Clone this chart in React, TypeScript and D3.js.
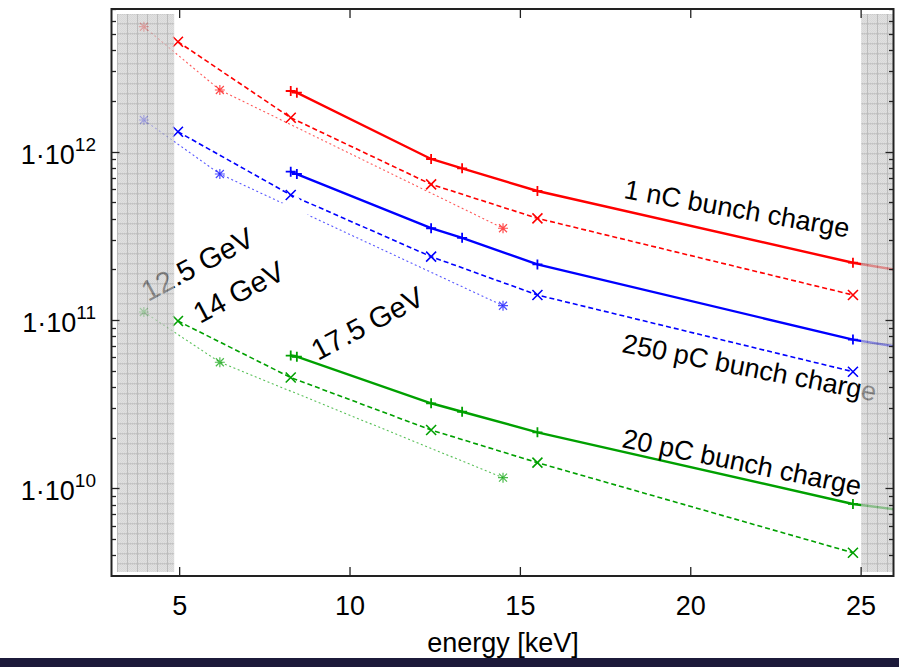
import React from "react";
import * as d3 from "d3";

// ---------- data ----------
const energySolid = [8.26, 8.44, 12.38, 13.29, 15.5, 24.76, 26];
const energyDashed = [4.95, 8.26, 12.38, 15.5, 24.76];
const energyDotted = [3.95, 6.18, 14.49];

const nC1_175 = [2.295e12, 2.242e12, 9.05e11, 7.97e11, 5.84e11, 2.19e11, 1.99e11];
const nC1_14 = [4.5e12, 1.592e12, 6.4e11, 4.02e11, 1.408e11];
const nC1_125 = [5.53e12, 2.326e12, 3.51e11];

const pC250_175 = [7.61e11, 7.37e11, 3.51e11, 3.08e11, 2.14e11, 7.65e10, 6.96e10];
const pC250_14 = [1.314e12, 5.53e11, 2.38e11, 1.408e11, 4.93e10];
const pC250_125 = [1.543e12, 7.37e11, 1.216e11];

const pC20_175 = [6.15e10, 6.05e10, 3.2e10, 2.85e10, 2.15e10, 8.07e9, 7.5e9];
const pC20_14 = [9.86e10, 4.55e10, 2.22e10, 1.42e10, 4.14e9];
const pC20_125 = [1.116e11, 5.61e10, 1.156e10];

const xTicks = [5, 10, 15, 20, 25];
const yDecades = [10, 11, 12];
const bandLeft = [3.16, 4.84];
const bandRight = [25.0, 25.93];

const colors = { red: "#ff0000", blue: "#0000ff", green: "#00a000" };

// ---------- layout ----------
const W = 899;
const H = 667;
const L = 111.5;
const R = 893.5;
const T = 9;
const B = 576;
const FONT = "'Liberation Sans', Arial, Helvetica, sans-serif";

const x = d3.scaleLinear().domain([3, 25.95]).range([L, R]);
const y = d3.scaleLog().domain([3.012e9, 7.046e12]).range([B, T]);

type Pt = [number, number];
const zip = (es: number[], vs: number[]): Pt[] => es.map((e, i) => [e, vs[i]]);

const line = d3
  .line<Pt>()
  .x((d) => x(d[0]))
  .y((d) => y(d[1]));

const plusPath = (r: number) => `M${-r},0H${r}M0,${-r}V${r}`;
const crossPath = (r: number) => `M${-r},${-r}L${r},${r}M${-r},${r}L${r},${-r}`;
const starPath = (r: number) => plusPath(r) + crossPath(r * 0.8);

interface Group {
  c: string;
  s: number[];
  d: number[];
  o: number[];
}
const groups: Group[] = [
  { c: colors.red, s: nC1_175, d: nC1_14, o: nC1_125 },
  { c: colors.blue, s: pC250_175, d: pC250_14, o: pC250_125 },
  { c: colors.green, s: pC20_175, d: pC20_14, o: pC20_125 },
];

const curveLabels = [
  { t: "1 nC bunch charge", x: 623, y: 198, a: 10, f: 27 },
  { t: "250 pC bunch charge", x: 621, y: 352, a: 11, f: 27 },
  { t: "20 pC bunch charge", x: 621, y: 447, a: 11.5, f: 27 },
  { t: "14 GeV", x: 200, y: 324, a: -28, f: 29 },
  { t: "17.5 GeV", x: 318, y: 361, a: -28, f: 29 },
];
const label125 = { t: "12.5 GeV", x: 148, y: 302, a: -28, f: 29 };

export default function App() {
  const minorTicks: number[] = [];
  for (let d = 9; d <= 12; d++)
    for (let m = 1; m <= 9; m++) {
      const v = m * Math.pow(10, d);
      if (v >= y.domain()[0] && v <= y.domain()[1]) minorTicks.push(v);
    }

  const band = (r: number[], key: string) => (
    <rect
      key={key}
      x={x(r[0])}
      y={T + 5}
      width={x(r[1]) - x(r[0])}
      height={B - T - 9}
      fill="url(#bandPat)"
    />
  );

  return (
    <div style={{ position: "fixed", left: 0, top: 0, width: W, height: H, background: "#fff" }}>
      <svg width={W} height={H} style={{ display: "block" }} fontFamily={FONT}>
        <defs>
          <clipPath id="plotClip">
            <rect x={L} y={T} width={R - L} height={B - T} />
          </clipPath>
          <pattern id="checker" width={2} height={2} patternUnits="userSpaceOnUse">
            <rect width={2} height={2} fill="#dadada" />
            <rect width={1} height={1} fill="#bdbdbd" />
            <rect x={1} y={1} width={1} height={1} fill="#bdbdbd" />
          </pattern>
          <pattern id="bandPat" width={10} height={10} x={117} y={3.3} patternUnits="userSpaceOnUse">
            <rect width={10} height={10} fill="url(#checker)" />
            <path d="M0,0.5H10M0.5,0V10" stroke="#9c9c9c" strokeWidth={1} />
          </pattern>
          <clipPath id="box125">
            <rect
              x={42}
              y={-24}
              width={140}
              height={32}
              transform={`translate(${label125.x},${label125.y}) rotate(${label125.a})`}
            />
          </clipPath>
        </defs>

        <rect width={W} height={H} fill="#fff" />

        {/* data */}
        <g clipPath="url(#plotClip)">
          {groups.map((g, gi) => {
            const sp = zip(energySolid, g.s);
            const dp = zip(energyDashed, g.d);
            const op = zip(energyDotted, g.o);
            return (
              <g key={gi}>
                <path d={line(op) || ""} fill="none" stroke={g.c} strokeOpacity={0.65} strokeWidth={1.1} strokeDasharray="2,2.6" />
                <path d={line(dp) || ""} fill="none" stroke={g.c} strokeWidth={1.6} strokeDasharray="5,3" />
                <path d={line(sp) || ""} fill="none" stroke={g.c} strokeWidth={2.4} />
                {op.map((p, i) => (
                  <path key={"o" + i} d={starPath(5)} transform={`translate(${x(p[0])},${y(p[1])})`} stroke={g.c} strokeOpacity={0.7} strokeWidth={1.2} fill="none" />
                ))}
                {dp.map((p, i) => (
                  <path key={"d" + i} d={crossPath(5)} transform={`translate(${x(p[0])},${y(p[1])})`} stroke={g.c} strokeWidth={1.6} fill="none" />
                ))}
                {sp
                  .filter((p) => p[0] < 25.5)
                  .map((p, i) => (
                    <path key={"s" + i} d={plusPath(5)} transform={`translate(${x(p[0])},${y(p[1])})`} stroke={g.c} strokeWidth={1.8} fill="none" />
                  ))}
              </g>
            );
          })}
        </g>

        {/* curve labels */}
        {curveLabels.map((l, i) => (
          <text key={i} x={0} y={0} transform={`translate(${l.x},${l.y}) rotate(${l.a})`} fontSize={l.f} fill="#000">
            {l.t}
          </text>
        ))}
        <text transform={`translate(${label125.x},${label125.y}) rotate(${label125.a})`} fontSize={label125.f} fill="#000">
          {label125.t}
        </text>

        {/* shaded bands */}
        <g opacity={0.68}>
          {band(bandLeft, "bl")}
          {band(bandRight, "br")}
        </g>

        {/* white box of the 12.5 GeV label */}
        <g clipPath="url(#box125)">
          <rect x={0} y={0} width={W} height={H} fill="#fff" />
          <text transform={`translate(${label125.x},${label125.y}) rotate(${label125.a})`} fontSize={label125.f} fill="#000">
            {label125.t}
          </text>
        </g>

        {/* frame */}
        <rect x={L} y={T} width={R - L} height={B - T} fill="none" stroke="#222" strokeWidth={2} />

        {/* y ticks */}
        {minorTicks.map((v, i) => {
          const major = Math.abs(Math.log10(v) - Math.round(Math.log10(v))) < 1e-9;
          const len = major ? 8 : 4.5;
          const yy = Math.round(y(v)) + 0.5;
          return (
            <g key={i} stroke="#222" strokeWidth={1.3}>
              <line x1={L} x2={L + len} y1={yy} y2={yy} />
              <line x1={R} x2={R - len} y1={yy} y2={yy} />
            </g>
          );
        })}
        {yDecades.map((d) => (
          <text key={d} x={96} y={y(Math.pow(10, d)) + 12} textAnchor="end" fontSize={27} fill="#000">
            <tspan>1·10</tspan>
            <tspan dy={-13} fontSize={19}>
              {d}
            </tspan>
          </text>
        ))}

        {/* x ticks */}
        {xTicks.map((t) => (
          <g key={t}>
            <line x1={x(t)} x2={x(t)} y1={B} y2={B - 9} stroke="#222" strokeWidth={1.3} />
            <line x1={x(t)} x2={x(t)} y1={T} y2={T + 9} stroke="#222" strokeWidth={1.3} />
            <text x={x(t)} y={615} textAnchor="middle" fontSize={27} fill="#000">
              {t}
            </text>
          </g>
        ))}
        <text x={503} y={652} textAnchor="middle" fontSize={27} fill="#000">
          energy [keV]
        </text>

        {/* slide footer bar */}
        <rect x={0} y={658} width={W} height={H - 658} fill="#1c1a3a" />
      </svg>
    </div>
  );
}
